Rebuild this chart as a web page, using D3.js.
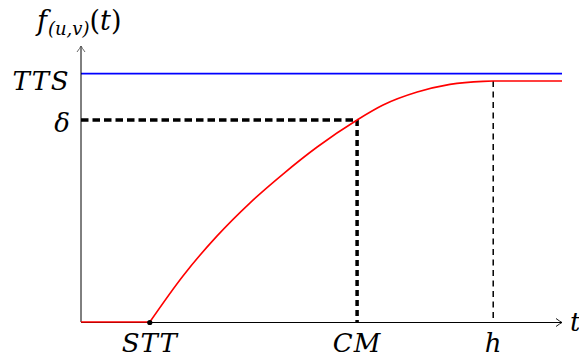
<!DOCTYPE html>
<html>
<head>
<meta charset="utf-8">
<script src="https://cdn.jsdelivr.net/npm/d3@7"></script>
<style>
  body { margin: 0; background: #fff; }
</style>
</head>
<body>
<svg id="chart" width="579" height="358"></svg>
<script>
// valeurs (unités de l'axe)
const tMax = 10, fMax = 10;
const TTS = 9;
const delta = 7.32;
const STT = 1.43, CM = 5.74, H = 8.57;
const curveT = [1.43, 2.12, 2.83, 3.51, 4.20, 4.91, 5.74, 6.28, 6.99, 7.67, 8.36, 8.57, 10];
const curveF = [0, 1.67, 3.12, 4.31, 5.36, 6.34, 7.32, 7.86, 8.33, 8.61, 8.72, 8.73, 8.73];
const xTicks = [{ v: STT, label: "STT" }, { v: CM, label: "CM" }, { v: H, label: "h" }];
const yTicks = [{ v: TTS, label: "TTS" }, { v: delta, label: "δ" }];

const FONT = "DejaVu Serif";

const svg = d3.select("#chart");
const x = d3.scaleLinear().domain([0, tMax]).range([81, 562]);
const y = d3.scaleLinear().domain([0, fMax]).range([322, 46]);

// lignes pointillées
svg.append("line")
  .attr("x1", x(0)).attr("x2", x(CM)).attr("y1", y(delta)).attr("y2", y(delta))
  .attr("stroke", "#000").attr("stroke-width", 3.5).attr("stroke-dasharray", "7.5,4");
svg.append("line")
  .attr("x1", x(CM)).attr("x2", x(CM)).attr("y1", y(delta)).attr("y2", y(0))
  .attr("stroke", "#000").attr("stroke-width", 3.5).attr("stroke-dasharray", "6,4");
svg.append("line")
  .attr("x1", x(H)).attr("x2", x(H)).attr("y1", y(curveF[curveF.length - 1])).attr("y2", y(0))
  .attr("stroke", "#000").attr("stroke-width", 1.5).attr("stroke-dasharray", "6,4.5");

// TTS
svg.append("line")
  .attr("x1", x(0)).attr("x2", x(tMax)).attr("y1", y(TTS)).attr("y2", y(TTS))
  .attr("stroke", "#0000ff").attr("stroke-width", 1.6);

// axes
svg.append("line")
  .attr("x1", x(0)).attr("x2", x(tMax)).attr("y1", y(0) + 0.5).attr("y2", y(0) + 0.5)
  .attr("stroke", "#000").attr("stroke-width", 1);
svg.append("line")
  .attr("x1", x(0)).attr("x2", x(0)).attr("y1", y(0)).attr("y2", y(fMax))
  .attr("stroke", "#000").attr("stroke-width", 1);
svg.append("path")
  .attr("d", `M${x(tMax) - 6},${y(0) - 3.5} Q${x(tMax) - 2},${y(0) - 0.5} ${x(tMax)},${y(0) + 0.5} Q${x(tMax) - 2},${y(0) + 1.5} ${x(tMax) - 6},${y(0) + 4.5}`)
  .attr("fill", "none").attr("stroke", "#000").attr("stroke-width", 0.9);
svg.append("path")
  .attr("d", `M${x(0) - 4},${y(fMax) + 6} Q${x(0) - 1},${y(fMax) + 2} ${x(0)},${y(fMax)} Q${x(0) + 1},${y(fMax) + 2} ${x(0) + 4},${y(fMax) + 6}`)
  .attr("fill", "none").attr("stroke", "#555").attr("stroke-width", 0.9);

// courbe rouge
svg.append("path")
  .attr("d", d3.line()([[x(0), y(0)], [x(STT), y(0)]]))
  .attr("fill", "none").attr("stroke", "#ff0000").attr("stroke-width", 1.6);
svg.append("path")
  .datum(curveT.map((t, i) => [t, curveF[i]]))
  .attr("d", d3.line().x(d => x(d[0])).y(d => y(d[1])).curve(d3.curveMonotoneX))
  .attr("fill", "none").attr("stroke", "#ff0000").attr("stroke-width", 1.6);

svg.append("circle")
  .attr("cx", x(STT)).attr("cy", y(0) + 0.5).attr("r", 2.6).attr("fill", "#000");

// étiquettes
svg.selectAll(".xlab").data(xTicks).enter().append("text")
  .attr("class", "xlab")
  .attr("x", d => x(d.v)).attr("y", 352)
  .attr("text-anchor", "middle")
  .attr("font-family", FONT).attr("font-style", "italic")
  .attr("font-size", 26).attr("letter-spacing", d => d.label.length > 1 ? 1 : 0)
  .text(d => d.label);

svg.selectAll(".ylab").data(yTicks).enter().append("text")
  .attr("class", "ylab")
  .attr("x", 70).attr("y", d => y(d.v) + (d.label === "δ" ? 12 : 16))
  .attr("text-anchor", "end")
  .attr("font-family", FONT).attr("font-style", "italic")
  .attr("font-size", 26).attr("letter-spacing", d => d.label.length > 1 ? 1.5 : 0)
  .text(d => d.label);

svg.append("text")
  .attr("x", 570).attr("y", 331)
  .attr("font-family", FONT).attr("font-style", "italic")
  .attr("font-size", 26)
  .text("t");

const title = svg.append("text").attr("x", 37).attr("y", 30)
  .attr("font-family", FONT).attr("font-style", "italic").attr("font-size", 27);
title.append("tspan").text("f");
title.append("tspan").attr("font-size", 18).attr("dy", 5).attr("dx", 1).text("(u,v)");
title.append("tspan").attr("dy", -5).attr("font-style", "normal").text("(");
title.append("tspan").text("t");
title.append("tspan").attr("font-style", "normal").text(")");
</script>
</body>
</html>
